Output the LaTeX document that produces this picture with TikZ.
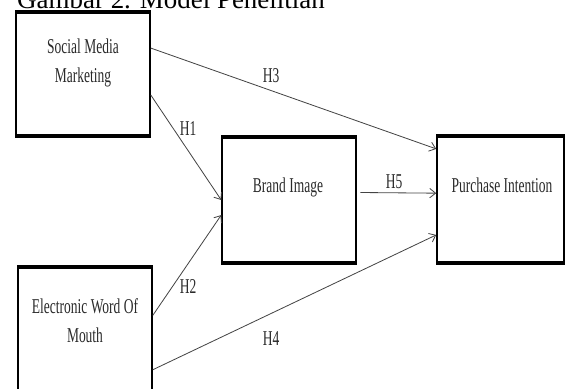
\documentclass[tikz,border=0pt]{standalone}
\usepackage{fontspec}
\setmainfont{Liberation Serif}
\newfontfamily\narrowfont[FakeStretch=0.64]{Liberation Serif}
\usetikzlibrary{calc, arrows.meta}

\definecolor{arrowgray}{HTML}{444444}
\definecolor{textgray}{HTML}{2A2A2A}

\tikzset{
    varbox/.style={draw, line width=1.3pt, inner sep=0pt},
    boxtext/.style={font=\narrowfont\fontsize{18}{25}\selectfont, text=textgray, align=center, inner sep=0pt},
    hyplabel/.style={font=\narrowfont\fontsize{18}{22}\selectfont, text=textgray, inner sep=0pt, anchor=base},
    hyparrow/.style={draw=arrowgray, line width=0.7pt, -{Straight Barb[length=5pt, width=8pt]}}
}

\begin{document}
\begin{tikzpicture}[x=0.03cm, y=-0.03cm]

    % Frame of the picture
    \clip (0, 0) rectangle (565, 388);

    % Caption, cut at the top edge
    \node[anchor=base west, inner sep=0pt, font=\fontsize{23}{26}\selectfont] (caption) at (17, 8) {Gambar 2. Model Penelitian};

    % Draw the four boxes
    \node[varbox, minimum width=4.02cm, minimum height=3.66cm] (smm) at (83, 74) {};
    \node[varbox, minimum width=4.02cm, minimum height=3.66cm] (ewom) at (85, 329) {};
    \node[varbox, minimum width=4.02cm, minimum height=3.72cm] (brand) at (289, 200) {};
    \node[varbox, minimum width=3.81cm, minimum height=3.75cm] (purch) at (500.5, 199.5) {};

    % Thicker top and bottom edges
    \foreach \b in {smm, ewom, brand, purch} {
        \draw[line width=3pt] (\b.north west) -- (\b.north east);
        \draw[line width=3pt] (\b.south west) -- (\b.south east);
    }

    % Texts in the boxes
    \node[boxtext] (smmtext) at (83, 63) {Social Media\\Marketing};
    \node[boxtext] (ewomtext) at (85, 321) {Electronic Word Of\\Mouth};
    \node[boxtext, anchor=base] (brandtext) at (288, 192) {Brand Image};
    \node[boxtext, anchor=base] (purchtext) at (502, 192) {Purchase Intention};

    % Arrows between the boxes
    \draw[hyparrow] ($(smm.north east)!0.29!(smm.south east)$) -- ($(purch.north west)!0.10!(purch.south west)$);
    \draw[hyparrow] ($(smm.north east)!0.67!(smm.south east)$) -- ($(brand.north west)!0.50!(brand.south west)$);
    \draw[hyparrow] ($(ewom.north east)!0.39!(ewom.south east)$) -- ($(brand.north west)!0.62!(brand.south west)$);
    \draw[hyparrow] ($(ewom.north east)!0.83!(ewom.south east)$) -- ($(purch.north west)!0.78!(purch.south west)$);
    \draw[hyparrow, shorten <=3pt] ($(brand.north east)!0.44!(brand.south east)$) -- ($(purch.north west)!0.45!(purch.south west)$);

    % Hypothesis labels
    \node[hyplabel] (h1) at (188, 135) {H1};
    \node[hyplabel] (h2) at (188, 293) {H2};
    \node[hyplabel] (h3) at (271, 82) {H3};
    \node[hyplabel] (h4) at (271, 345) {H4};
    \node[hyplabel] (h5) at (394, 188) {H5};

\end{tikzpicture}
\end{document}
